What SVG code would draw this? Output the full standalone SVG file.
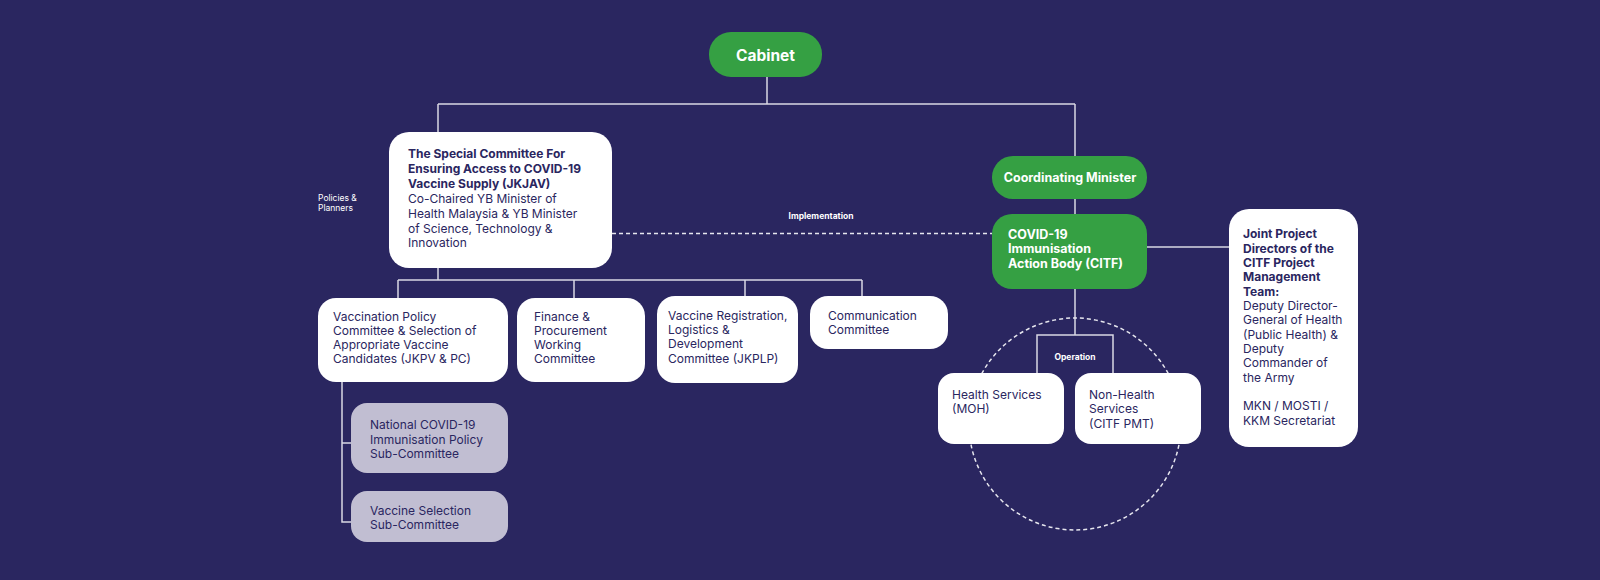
<svg xmlns="http://www.w3.org/2000/svg" width="1600" height="580" viewBox="0 0 1600 580">
<style>
.bg{fill:#2a2660}
.green{fill:#35a043}
.white{fill:#ffffff}
.gray{fill:#c1bed2}
.ln{stroke:#d9d8e3;stroke-width:1.5;fill:none}
.dash{stroke:#e6e6ee;stroke-width:1.5;fill:none;stroke-dasharray:4 3}
text{font-family:"Inter","Noto Sans","Liberation Sans",sans-serif}
.t{font-size:12px;fill:#2a2660}
.tb{font-size:12px;fill:#2a2660;font-weight:700}
.wb{fill:#ffffff;font-weight:700}
.small{font-size:8.5px;fill:#ffffff}
</style>
<rect class="bg" x="0" y="0" width="1600" height="580"/>
<g id="connectors">
<path class="ln" d="M767 77V104M438 104H1075M438 104V132M1075 104V214"/>
<path class="ln" d="M438 268V280M398 280H862M398 280V298M574 280V298M745 280V296M862 280V296"/>
<path class="ln" d="M342 382V522H351M342 443H351"/>
<path class="ln" d="M1147 247H1229"/>
<path class="ln" d="M1075 289V335M1037 373V335H1113V373"/>
<path class="dash" d="M612 233.5H992"/>
<circle class="dash" cx="1075" cy="424" r="106"/>
</g>
<g id="cabinet">
<rect class="green" x="709" y="32" width="113" height="45" rx="22"/>
<text class="wb" x="765.5" y="61" font-size="15.5" text-anchor="middle">Cabinet</text>
</g>
<g id="jkjav">
<rect class="white" x="389" y="132" width="223" height="136" rx="20"/>
<text class="tb" x="408" y="158">The Special Committee For</text>
<text class="tb" x="408" y="173">Ensuring Access to COVID-19</text>
<text class="tb" x="408" y="188">Vaccine Supply (JKJAV)</text>
<text class="t" x="408" y="203">Co-Chaired YB Minister of</text>
<text class="t" x="408" y="218">Health Malaysia &amp; YB Minister</text>
<text class="t" x="408" y="233">of Science, Technology &amp;</text>
<text class="t" x="408" y="247">Innovation</text>
</g>
<g id="policies-label">
<text class="small" x="318" y="201">Policies &amp;</text>
<text class="small" x="318" y="211">Planners</text>
</g>
<g id="implementation-label">
<text class="small" x="821" y="219" font-weight="700" text-anchor="middle">Implementation</text>
</g>
<g id="jkpv">
<rect class="white" x="318" y="298" width="190" height="84" rx="18"/>
<text class="t" x="333" y="321">Vaccination Policy</text>
<text class="t" x="333" y="335">Committee &amp; Selection of</text>
<text class="t" x="333" y="349">Appropriate Vaccine</text>
<text class="t" x="333" y="363">Candidates (JKPV &amp; PC)</text>
</g>
<g id="finance">
<rect class="white" x="517" y="298" width="128" height="84" rx="18"/>
<text class="t" x="534" y="321">Finance &amp;</text>
<text class="t" x="534" y="335">Procurement</text>
<text class="t" x="534" y="349">Working</text>
<text class="t" x="534" y="363">Committee</text>
</g>
<g id="jkplp">
<rect class="white" x="657" y="296" width="141" height="87" rx="18"/>
<text class="t" x="668" y="320">Vaccine Registration,</text>
<text class="t" x="668" y="334">Logistics &amp;</text>
<text class="t" x="668" y="348">Development</text>
<text class="t" x="668" y="363">Committee (JKPLP)</text>
</g>
<g id="communication">
<rect class="white" x="810" y="296" width="138" height="53" rx="18"/>
<text class="t" x="828" y="320">Communication</text>
<text class="t" x="828" y="334">Committee</text>
</g>
<g id="sub-policy">
<rect class="gray" x="351" y="403" width="157" height="70" rx="16"/>
<text class="t" x="370" y="429">National COVID-19</text>
<text class="t" x="370" y="444">Immunisation Policy</text>
<text class="t" x="370" y="458">Sub-Committee</text>
</g>
<g id="sub-selection">
<rect class="gray" x="351" y="491" width="157" height="51" rx="16"/>
<text class="t" x="370" y="515">Vaccine Selection</text>
<text class="t" x="370" y="529">Sub-Committee</text>
</g>
<g id="coordinating-minister">
<rect class="green" x="992" y="156" width="155" height="43" rx="21"/>
<text class="wb" x="1070" y="182" font-size="12.5" text-anchor="middle">Coordinating Minister</text>
</g>
<g id="citf">
<rect class="green" x="992" y="214" width="155" height="75" rx="20"/>
<text class="wb" x="1008" y="239" font-size="12.5">COVID-19</text>
<text class="wb" x="1008" y="253" font-size="12.5">Immunisation</text>
<text class="wb" x="1008" y="268" font-size="12.5">Action Body (CITF)</text>
</g>
<g id="operation-label">
<text class="small" x="1075" y="360" font-weight="700" text-anchor="middle">Operation</text>
</g>
<g id="health">
<rect class="white" x="938" y="373" width="126" height="71" rx="16"/>
<text class="t" x="952" y="399">Health Services</text>
<text class="t" x="952" y="413">(MOH)</text>
</g>
<g id="non-health">
<rect class="white" x="1075" y="373" width="126" height="71" rx="16"/>
<text class="t" x="1089" y="399">Non-Health</text>
<text class="t" x="1089" y="413">Services</text>
<text class="t" x="1089" y="428">(CITF PMT)</text>
</g>
<g id="joint-directors">
<rect class="white" x="1229" y="209" width="129" height="238" rx="20"/>
<text class="tb" x="1243" y="238">Joint Project</text>
<text class="tb" x="1243" y="253">Directors of the</text>
<text class="tb" x="1243" y="267">CITF Project</text>
<text class="tb" x="1243" y="281">Management</text>
<text class="tb" x="1243" y="296">Team:</text>
<text class="t" x="1243" y="310">Deputy Director-</text>
<text class="t" x="1243" y="324">General of Health</text>
<text class="t" x="1243" y="339">(Public Health) &amp;</text>
<text class="t" x="1243" y="353">Deputy</text>
<text class="t" x="1243" y="367">Commander of</text>
<text class="t" x="1243" y="382">the Army</text>
<text class="t" x="1243" y="410">MKN / MOSTI /</text>
<text class="t" x="1243" y="425">KKM Secretariat</text>
</g>
</svg>
